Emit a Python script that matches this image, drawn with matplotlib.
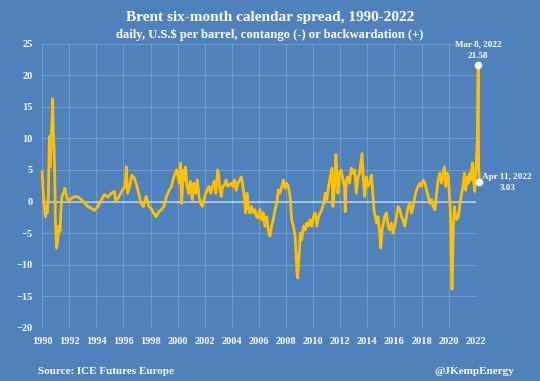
import matplotlib
matplotlib.use("Agg")
import matplotlib.pyplot as plt

# Brent six-month calendar spread (decimal year, US$/bbl)
years = [
    1990.00, 1990.07, 1990.17, 1990.24, 1990.32, 1990.39, 1990.46, 1990.54, 1990.61, 1990.66,
    1990.73, 1990.78, 1990.83, 1990.88, 1990.93, 1990.98, 1991.02, 1991.07, 1991.15, 1991.24,
    1991.32, 1991.39, 1991.46, 1991.56, 1991.68, 1991.80, 1991.93, 1992.17, 1992.41, 1992.66,
    1992.90, 1993.15, 1993.39, 1993.63, 1993.88, 1994.12, 1994.37, 1994.61, 1994.85, 1995.10,
    1995.34, 1995.43, 1995.68, 1995.93, 1996.12, 1996.22, 1996.30, 1996.48, 1996.62, 1996.80,
    1996.98, 1997.12, 1997.30, 1997.48, 1997.68, 1997.88, 1998.05, 1998.22, 1998.42, 1998.62,
    1998.80, 1998.98, 1999.18, 1999.38, 1999.55, 1999.72, 1999.93, 2000.12, 2000.22, 2000.30,
    2000.42, 2000.55, 2000.58, 2000.70, 2000.82, 2000.95, 2001.08, 2001.20, 2001.32, 2001.45,
    2001.58, 2001.70, 2001.82, 2001.95, 2002.08, 2002.20, 2002.32, 2002.45, 2002.58, 2002.70,
    2002.82, 2002.95, 2003.02, 2003.12, 2003.22, 2003.32, 2003.45, 2003.58, 2003.70, 2003.82,
    2003.95, 2004.08, 2004.20, 2004.32, 2004.45, 2004.58, 2004.70, 2004.82, 2004.95, 2005.02,
    2005.12, 2005.22, 2005.32, 2005.45, 2005.58, 2005.70, 2005.82, 2005.95, 2006.07, 2006.20,
    2006.32, 2006.44, 2006.57, 2006.69, 2006.81, 2006.94, 2007.06, 2007.19, 2007.31, 2007.43,
    2007.56, 2007.68, 2007.80, 2007.93, 2008.05, 2008.17, 2008.30, 2008.42, 2008.54, 2008.67,
    2008.74, 2008.81, 2008.86, 2008.91, 2008.99, 2009.06, 2009.16, 2009.28, 2009.41, 2009.53,
    2009.65, 2009.78, 2009.90, 2010.02, 2010.15, 2010.27, 2010.40, 2010.52, 2010.64, 2010.77,
    2010.89, 2011.01, 2011.14, 2011.26, 2011.38, 2011.46, 2011.58, 2011.68, 2011.78, 2011.83,
    2011.95, 2012.07, 2012.20, 2012.32, 2012.37, 2012.44, 2012.57, 2012.69, 2012.81, 2012.94,
    2013.06, 2013.19, 2013.31, 2013.43, 2013.60, 2013.68, 2013.80, 2013.93, 2014.05, 2014.17,
    2014.30, 2014.40, 2014.49, 2014.59, 2014.69, 2014.79, 2014.91, 2014.99, 2015.09, 2015.19,
    2015.28, 2015.41, 2015.53, 2015.65, 2015.78, 2015.90, 2016.02, 2016.15, 2016.27, 2016.40,
    2016.52, 2016.64, 2016.77, 2016.89, 2017.01, 2017.14, 2017.26, 2017.38, 2017.51, 2017.63,
    2017.75, 2017.88, 2018.00, 2018.12, 2018.25, 2018.37, 2018.49, 2018.62, 2018.74, 2018.86,
    2018.99, 2019.11, 2019.23, 2019.36, 2019.48, 2019.60, 2019.68, 2019.78, 2019.88, 2019.98,
    2020.05, 2020.12, 2020.17, 2020.22, 2020.25, 2020.30, 2020.35, 2020.42, 2020.49, 2020.59,
    2020.72, 2020.84, 2020.96, 2021.09, 2021.16, 2021.26, 2021.36, 2021.46, 2021.56, 2021.65,
    2021.75, 2021.85, 2021.93, 2022.00, 2022.07, 2022.12, 2022.18, 2022.20, 2022.22, 2022.27,
]
spread = [
    4.7, 1.8, -0.8, -2.4, -0.8, -1.8, 1.1, 10.3, 5.5, 9.7,
    12.9, 16.3, 11.3, 8.2, 4.5, -2.9, -5.0, -7.4, -6.1, -3.9,
    -4.7, -1.3, 0.8, 1.3, 2.1, 0.8, 0.0, 0.5, 0.8, 0.7,
    0.3, -0.3, -0.8, -1.1, -1.4, -0.8, 0.3, 1.1, 0.7, 1.3,
    1.6, 0.0, 0.8, 1.8, 2.4, 5.5, 1.3, 2.6, 4.2, 3.7,
    2.6, 1.3, -0.3, -0.8, 0.8, -0.8, -1.1, -1.8, -2.4, -1.6,
    -1.3, -0.8, 0.8, 1.8, 2.4, 3.9, 5.0, 2.9, 6.1, -0.3,
    5.0, 3.4, 5.5, 2.4, 1.3, 3.2, 0.3, 2.9, 1.3, 3.4,
    0.8, -0.3, -0.8, 0.3, 1.3, 1.8, 2.4, 1.3, 2.4, 3.2,
    1.3, 5.0, 4.5, 1.8, 0.8, 2.4, 2.6, 3.4, 2.4, 2.6,
    2.9, 2.4, 3.4, 1.8, 2.9, 3.4, 3.9, 2.4, 0.3, -1.8,
    1.3, -0.8, -1.8, -0.8, -1.8, -1.3, -2.4, -2.6, -1.3, -2.9,
    -1.8, -3.9, -2.4, -4.5, -5.5, -3.9, -2.9, -1.3, -0.3, 1.8,
    1.3, 2.4, 3.4, 2.1, 2.9, 2.4, 0.8, -2.9, -3.9, -5.5,
    -8.2, -11.3, -12.1, -10.3, -7.6, -5.0, -6.1, -3.9, -4.5, -3.4,
    -3.9, -2.9, -3.9, -2.4, -1.8, -3.9, -2.4, -1.8, -1.3, -0.3,
    1.3, 0.3, 2.4, 3.9, 5.3, -0.8, 2.4, 7.4, 3.9, 1.3,
    4.5, 5.0, 3.4, 2.4, -1.6, 3.4, 3.9, 2.9, 5.3, 4.5,
    5.0, 1.3, 3.9, 4.5, 7.6, 4.5, 0.8, 3.9, 2.4, 2.9,
    4.2, 1.3, -1.3, -2.4, -3.4, -2.4, -5.0, -7.4, -4.5, -3.4,
    -2.4, -1.8, -3.9, -4.5, -3.4, -5.0, -3.9, -2.4, -0.8, -1.3,
    -2.4, -2.9, -3.9, -2.4, -0.8, -0.3, -1.8, -0.8, 0.8, 1.8,
    2.4, 2.9, 2.4, 3.4, 2.9, 1.8, 0.8, -0.3, 0.3, -0.8,
    -1.3, 1.3, 3.4, 4.5, 2.9, 4.5, 5.5, 2.4, 4.5, 3.9,
    1.3, -1.3, -5.0, -10.3, -13.9, -9.2, -3.9, -0.8, -1.8, -2.9,
    -2.4, -0.3, 1.3, 2.9, 4.5, 1.8, 3.9, 2.9, 4.5, 3.4,
    6.1, 2.9, 1.6, 5.0, 7.1, 10.3, 21.58, 9.2, 5.0, 3.03,
]

year_ticks = list(range(1990, 2023, 2))
value_ticks = list(range(-20, 26, 5))

peak_label = "Mar 8, 2022\n21.58"
last_label = "Apr 11, 2022\n3.03"
peak_idx = spread.index(max(spread))

bg = "#4F81BD"
gold = "#FFC000"
serif = ["Liberation Serif", "DejaVu Serif"]
plt.rcParams["font.family"] = serif
plt.rcParams["font.weight"] = "bold"

fig = plt.figure(figsize=(5.4, 3.81), dpi=100, facecolor=bg)
ax = fig.add_axes([0.078, 0.14, 0.803, 0.745])
ax.set_facecolor(bg)

ax.plot(years, spread, color=gold, lw=2.0, clip_on=False, zorder=3)
ax.axhline(0, color="white", alpha=0.55, lw=1.2, zorder=2)

ax.plot(years[peak_idx], spread[peak_idx], "o", color="white", ms=4.5, clip_on=False, zorder=4)
ax.plot(years[-1], spread[-1], "o", color="white", ms=4.5, clip_on=False, zorder=4)
ax.annotate(peak_label, (years[peak_idx], spread[peak_idx]), xytext=(0, 4),
            textcoords="offset points", ha="center", va="bottom", color="white",
            fontsize=6.6, fontweight="bold", linespacing=1.5, annotation_clip=False)
ax.annotate(last_label, (years[-1], spread[-1]), xytext=(20, 0),
            textcoords="offset points", ha="center", va="center", color="white",
            fontsize=6.6, fontweight="bold", linespacing=1.5, annotation_clip=False)

ax.set_xlim(1990, 2022)
ax.set_ylim(-20, 25)
ax.set_xticks(year_ticks)
ax.set_yticks(value_ticks)
ax.grid(True, color="white", alpha=0.2, lw=0.8)
ax.tick_params(colors="white", length=0, labelsize=7.5, pad=7)
for lab in ax.get_xticklabels() + ax.get_yticklabels():
    lab.set_fontweight("bold")
for s in ax.spines.values():
    s.set_visible(False)

fig.text(0.5, 0.955, "Brent six-month calendar spread, 1990-2022", ha="center", va="center",
         color="white", fontsize=11, fontweight="bold")
fig.text(0.5, 0.91, "daily, U.S.$ per barrel, contango (-) or backwardation (+)", ha="center",
         va="center", color="white", fontsize=9.1, fontweight="bold")
fig.text(0.071, 0.026, "Source: ICE Futures Europe", ha="left", va="center",
         color="white", fontsize=8, fontweight="bold")
fig.text(0.953, 0.026, "@JKempEnergy", ha="right", va="center",
         color="white", fontsize=8, fontweight="bold")

fig.savefig("out.png", dpi=100, facecolor=bg)
